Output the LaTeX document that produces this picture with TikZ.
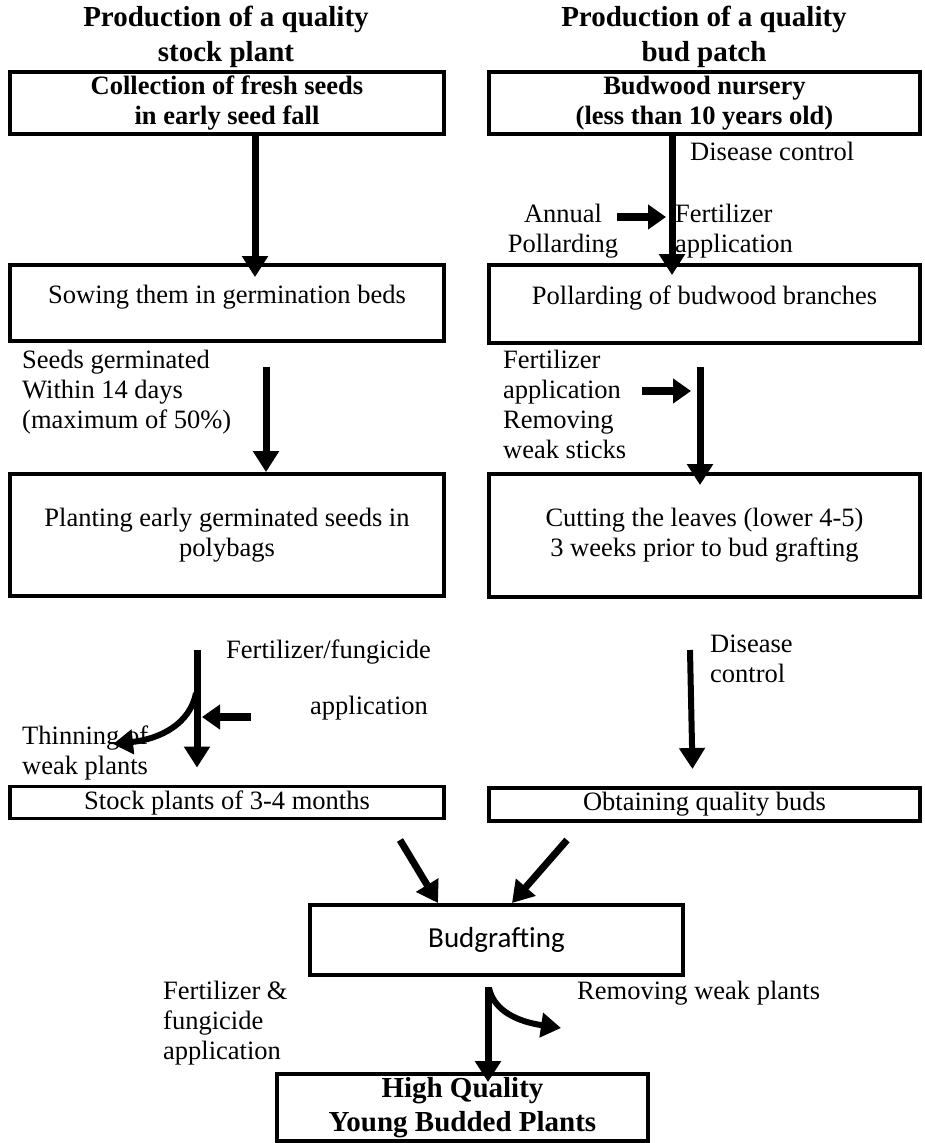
\documentclass[tikz,border=0pt]{standalone}
\usepackage{fontspec}
\setmainfont{Liberation Serif}
\newfontfamily\calfont{Carlito}
\usetikzlibrary{arrows.meta,calc}
\newcommand{\fsn}{\fontsize{26.5}{30}\selectfont}
\newcommand{\fsb}{\fontsize{29}{33.5}\selectfont\bfseries}
\newcommand{\fsh}{\fontsize{29}{35}\selectfont\bfseries}
\begin{document}
\begin{tikzpicture}[x=1pt,y=-1pt,
  bx/.style={draw, line width=3.8pt, inner sep=0pt, align=center, font=\fsn},
  lbl/.style={inner sep=0pt, anchor=north west, align=left, font=\fsn},
  arr/.style={line width=7pt, -{Triangle[length=21pt,width=25pt]}},
  sarr/.style={line width=8pt, -{Triangle[length=18pt,width=24pt]}},
  carr/.style={line width=6pt, -{Triangle[length=20pt,width=24pt]}}
]
\useasboundingbox (0,0) rectangle (925,1143);

% headings
\node[font=\fsh, align=center, inner sep=0pt] (hL) at (226,37) {Production of a quality\\stock plant};
\node[font=\fsh, align=center, inner sep=0pt] (hR) at (704,37) {Production of a quality\\bud patch};

% left column
\node[bx, minimum width=434pt, minimum height=62pt] (L1) at (227,103) {\bfseries Collection of fresh seeds\\\bfseries in early seed fall};
\node[bx, minimum width=434pt, minimum height=76pt, text height=10pt, text depth=10pt] (L2) at (227,303) {Sowing them in germination beds};
\node[bx, minimum width=434pt, minimum height=122pt] (L3) at (227,535) {Planting early germinated seeds in\\polybags};
\node[bx, minimum width=434pt, minimum height=32pt] (L4) at (227,802.5) {Stock plants of 3-4 months};

% right column
\node[bx, minimum width=431pt, minimum height=62pt] (R1) at (704.5,103) {\bfseries Budwood nursery\\\bfseries (less than 10 years old)};
\node[bx, minimum width=431pt, minimum height=78pt, text height=10pt, text depth=10pt] (R2) at (704.5,304) {Pollarding of budwood branches};
\node[bx, minimum width=431pt, minimum height=123pt] (R3) at (704.5,535.5) {Cutting the leaves (lower 4-5)\\3 weeks prior to bud grafting};
\node[bx, minimum width=431pt, minimum height=33pt] (R4) at (704.5,804.5) {Obtaining quality buds};

% bottom
\node[bx, minimum width=373pt, minimum height=70pt, font=\calfont\fontsize{29}{33}\selectfont] (BG) at (496.5,940) {Budgrafting};
\node[bx, minimum width=371pt, minimum height=67pt, font=\fsb] (HQ) at (462.5,1107.5) {High Quality\\Young Budded Plants};

% labels
\node[lbl] (tSeeds) at (22,350) {Seeds germinated\\Within 14 days\\(maximum of 50\%)};
\node[lbl] (tFF) at (226,640) {Fertilizer/fungicide};
\node[lbl] (tApp) at (310,696) {application};
\node[lbl] (tThin) at (22,726) {Thinning of\\weak plants};
\node[lbl] (tDis1) at (690,142) {Disease control};
\node[inner sep=0pt, anchor=north, align=center, font=\fsn] (tAnn) at (563,204) {Annual\\Pollarding};
\node[lbl] (tFert1) at (675,204) {Fertilizer\\application};
\node[lbl] (tFert2) at (503,350) {Fertilizer\\application\\Removing\\weak sticks};
\node[lbl] (tDis2) at (710,635) {Disease\\control};
\node[lbl] (tRem) at (577,981) {Removing weak plants};
\node[lbl] (tFFa) at (163,981) {Fertilizer \&\\fungicide\\application};

% coordinates for free ends
\coordinate (xa) at (255,0);
\coordinate (xb) at (266,0);
\coordinate (xc) at (197,0);
\coordinate (xd) at (672,0);
\coordinate (xe) at (700,0);
\coordinate (xf) at (488,0);
\coordinate (th0) at (196,693);
\coordinate (th1) at (113,744);
\coordinate (fa0) at (251,717);
\coordinate (fa1) at (202,717);
\coordinate (ap0) at (617,217);
\coordinate (ap1) at (666,217);
\coordinate (fr0) at (642,391);
\coordinate (fr1) at (691,391);
\coordinate (dc0) at (690,650);
\coordinate (dc1) at (692.5,769);
\coordinate (dg0) at (400,840);
\coordinate (dg1) at (438,903);
\coordinate (dh0) at (567,840);
\coordinate (dh1) at (512,903);
\coordinate (rw0) at (489,988);
\coordinate (rw1) at (561,1028);

% connectors
\draw[arr, shorten >=-14pt] (L1.south -| xa) -- (L2.north -| xa);
\draw[arr, shorten <=24pt] (L2.south -| xb) -- (L3.north -| xb);
\draw[arr, shorten <=52pt, shorten >=17pt] (L3.south -| xc) -- (L4.north -| xc);
\draw[carr] (th0) .. controls (190,724) and (160,739) .. (th1);
\draw[sarr] (fa0) -- (fa1);

\draw[arr, shorten >=-12pt] (R1.south -| xd) -- (R2.north -| xd);
\draw[sarr] (ap0) -- (ap1);
\draw[arr, shorten <=22pt, shorten >=-13pt] (R2.south -| xe) -- (R3.north -| xe);
\draw[sarr] (fr0) -- (fr1);
\draw[arr, line width=6pt] (dc0) -- (dc1);

\draw[arr] (dg0) -- (dg1);
\draw[arr] (dh0) -- (dh1);
\draw[arr, shorten <=10pt, shorten >=-10pt] (BG.south -| xf) -- (HQ.north -| xf);
\draw[carr] (rw0) .. controls (494,1012) and (520,1022) .. (rw1);
\end{tikzpicture}
\end{document}
